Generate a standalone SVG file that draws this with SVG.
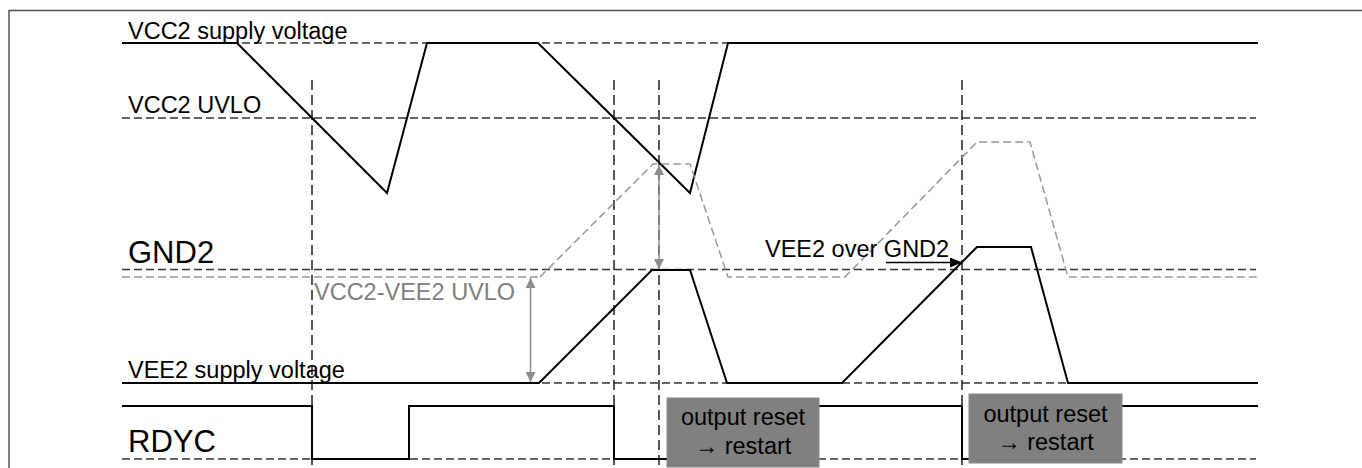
<svg xmlns="http://www.w3.org/2000/svg" width="1362" height="468" viewBox="0 0 1362 468">
<style>
text{font-family:"Liberation Sans",Arial,sans-serif;}
.lbl{font-size:23.5px;fill:#000;}
.big{font-size:31px;fill:#000;}
.glbl{font-size:23.5px;fill:#808080;}
.ref{fill:none;stroke:#333;stroke-width:1.6;stroke-dasharray:8,4;}
.gref{fill:none;stroke:#999;stroke-width:1.5;stroke-dasharray:8,4;}
.vdash{fill:none;stroke:#111;stroke-width:1.4;stroke-dasharray:10,5;}
.wave{fill:none;stroke:#000;stroke-width:2;stroke-linejoin:miter;}
.gwave{fill:none;stroke:#999;stroke-width:1.5;stroke-dasharray:8,4;}
.garrow{fill:none;stroke:#8c8c8c;stroke-width:1.5;}
.box{fill:#808080;stroke:#8a8a8a;stroke-width:1;}
.btxt{font-size:23.5px;fill:#000;text-anchor:middle;}
</style>
<defs>
<marker id="gh" viewBox="0 0 10 10" refX="10" refY="5" markerWidth="10" markerHeight="10" markerUnits="userSpaceOnUse" orient="auto-start-reverse">
<path d="M0,0 L10,5 L0,10 z" fill="#8c8c8c"/>
</marker>
<marker id="bh" viewBox="0 0 12 10" refX="12" refY="5" markerWidth="12" markerHeight="10" markerUnits="userSpaceOnUse" orient="auto">
<path d="M0,0 L12,5 L0,10 z" fill="#000"/>
</marker>
</defs>
<rect x="9" y="10.5" width="1400" height="500" fill="#fff" stroke="#555" stroke-width="1.5"/>

<g id="reference-lines">
<line class="ref" x1="122" y1="43" x2="1256" y2="43"/>
<line class="ref" x1="122" y1="118" x2="1256" y2="118"/>
<line class="ref" x1="122" y1="269.5" x2="1256" y2="269.5"/>
<line class="gref" x1="122" y1="277" x2="540" y2="277"/>
<line class="ref" x1="122" y1="383" x2="1256" y2="383"/>
<line class="ref" x1="122" y1="459" x2="1256" y2="459"/>
<line class="vdash" x1="312" y1="80" x2="312" y2="468"/>
<line class="vdash" x1="614" y1="80" x2="614" y2="468"/>
<line class="vdash" x1="659" y1="80" x2="659" y2="468"/>
<line class="vdash" x1="962" y1="80" x2="962" y2="468"/>
</g>

<g id="vcc2-wave">
<polyline class="wave" points="122,43 237,43 387,193 427,43 538,43 690,193 728,43 1258,43"/>
</g>

<g id="vcc2-vee2-wave">
<polyline class="gwave" points="540,277 653,164 690,164 728,277 845,277 977,142 1030,142 1068,277 1258,277"/>
</g>

<g id="vee2-wave">
<polyline class="wave" points="122,383 539,383 652,270 690,270 727,383 842,383 977,247 1031,247 1068,383 1258,383"/>
</g>

<g id="rdyc-wave">
<polyline class="wave" points="122,406 312,406 312,459 409,459 409,406 614,406 614,459 745,459 745,406 962,406 962,459 1045,459 1045,406 1258,406"/>
</g>

<g id="connectors">
<line class="garrow" x1="530.5" y1="278" x2="530.5" y2="382" marker-start="url(#gh)" marker-end="url(#gh)"/>
<line class="garrow" x1="659" y1="165" x2="659" y2="269" marker-start="url(#gh)" marker-end="url(#gh)"/>
<line x1="886" y1="262.5" x2="962" y2="262.5" stroke="#000" stroke-width="1.5" marker-end="url(#bh)"/>
</g>

<g id="labels">
<text class="lbl" x="128" y="39">VCC2 supply voltage</text>
<text class="lbl" x="128" y="113">VCC2 UVLO</text>
<text class="big" x="128" y="263">GND2</text>
<text class="glbl" x="314" y="300">VCC2-VEE2 UVLO</text>
<text class="lbl" x="765" y="257">VEE2 over GND2</text>
<text class="lbl" x="128" y="378">VEE2 supply voltage</text>
<text class="big" x="128" y="452">RDYC</text>
</g>

<g id="box1">
<rect class="box" x="667" y="398" width="152" height="69"/>
<text class="btxt" x="743" y="425">output reset</text>
<text class="btxt" x="743" y="454">→ restart</text>
</g>

<g id="box2">
<rect class="box" x="969" y="394" width="153" height="69"/>
<text class="btxt" x="1045.5" y="421.5">output reset</text>
<text class="btxt" x="1045.5" y="450">→ restart</text>
</g>
</svg>
